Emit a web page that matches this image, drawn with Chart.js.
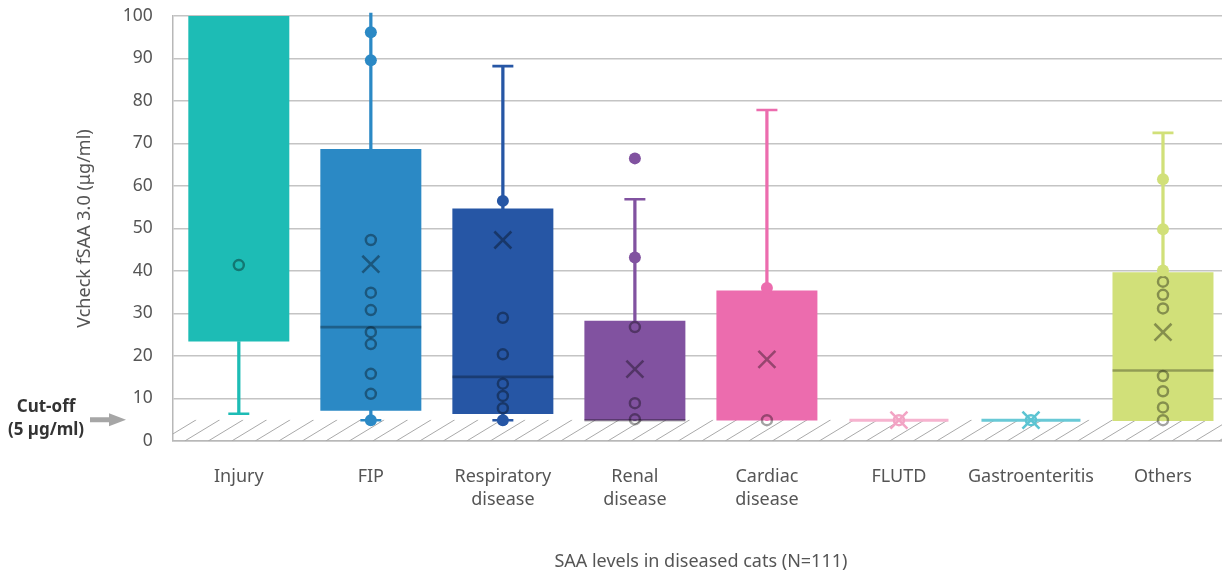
<!DOCTYPE html>
<html>
<head>
<meta charset="utf-8">
<script src="https://cdn.jsdelivr.net/npm/chart.js@4/dist/chart.umd.min.js"></script>
<style>
  html, body { margin: 0; padding: 0; background: #ffffff; }
  #wrap { width: 1222px; height: 572px; position: relative; }
</style>
</head>
<body>
<div id="wrap"><canvas id="c"></canvas></div>
<script>
// ---------------- data ----------------
const categories = ['Injury', 'FIP', ['Respiratory', 'disease'], ['Renal', 'disease'], ['Cardiac', 'disease'], 'FLUTD', 'Gastroenteritis', 'Others'];
const seriesColors = ['#1dbcb5', '#2b89c5', '#2656a5', '#8152a0', '#ec6cae', '#f6b3cf', '#69c9d6', '#d1e079'];
const yTicks = [0, 10, 20, 30, 40, 50, 60, 70, 80, 90, 100];
const cutoff = 5;

// interquartile boxes [Q1, Q3]
const boxRanges = [[23.4, 100], [7.1, 68.7], [6.35, 54.7], [4.8, 28.3], [4.8, 35.4], null, null, [4.7, 39.7]];
// whisker stems [low, high]
const whiskerRanges = [[6.4, 23.4], [4.9, 100.7], [4.9, 88.2], [4.8, 56.9], [4.8, 77.9], null, null, [4.7, 72.5]];
const capsHigh = [null, null, 88.2, 56.9, 77.9, null, null, 72.5];
const capsLow = [6.4, 4.9, 4.9, null, null, null, null, null];
const medians = [null, 26.8, 15.1, 4.9, null, 4.9, 4.9, 16.6];
const means = [null, 41.6, 47.3, 16.9, 19.2, 4.9, 4.9, 25.6];
// individual values shown as open circles (inside boxes)
const hollowPoints = [
  [41.4],
  [47.3, 34.9, 30.8, 25.6, 22.8, 15.8, 11.1],
  [29.0, 20.4, 13.5, 10.6, 7.7],
  [26.8, 8.9, 5.1],
  [4.9],
  [4.9],
  [4.9],
  [37.5, 34.4, 31.2, 15.3, 11.7, 7.9, 4.9]
];
// individual values shown as filled dots (outside boxes)
const filledPoints = [
  [],
  [96.2, 89.6, 4.9],
  [56.5, 4.9],
  [66.5, 43.2],
  [36.0],
  [],
  [],
  [61.6, 49.8, 40.1]
];

// ---------------- helpers ----------------
const FONT = "'Noto Sans', 'Open Sans', sans-serif";
const overlayDark = 'rgba(0,0,0,0.36)';
const flatColorsStrong = { 5: '#f2a4c4', 6: '#5cc4d2' };
function markColor(i) { return flatColorsStrong[i] || overlayDark; }
function toXY(arr) {
  const out = [];
  arr.forEach((v, i) => { if (v !== null && v !== undefined) out.push({ x: categories[i], y: v, i: i }); });
  return out;
}
function listToXY(lists) {
  const out = [];
  lists.forEach((l, i) => l.forEach(v => out.push({ x: categories[i], y: v, i: i })));
  return out;
}
const idxOf = ctx => (ctx.raw && typeof ctx.raw.i === 'number') ? ctx.raw.i : ctx.dataIndex;
const isFlat = c => idxOf(c) === 5 || idxOf(c) === 6;

// ---------------- plugins ----------------
// the original plot runs a few pixels past the right edge of the picture
const extendRight = {
  id: 'extendRight',
  afterLayout(chart) {
    const x = chart.scales.x;
    x.right += 7;
    x.width += 7;
    x.configure();
  }
};

const hatchPlugin = {
  id: 'hatch',
  beforeDatasetsDraw(chart) {
    const { ctx, chartArea, scales } = chart;
    const y0 = scales.y.getPixelForValue(0);
    const y5 = scales.y.getPixelForValue(cutoff);
    const h = y0 - y5;
    ctx.save();
    ctx.beginPath();
    ctx.rect(chartArea.left, y5, chartArea.right - chartArea.left, h);
    ctx.clip();
    ctx.strokeStyle = '#a9a9a9';
    ctx.lineWidth = 1;
    const dx = h * 1.65;
    for (let x = chartArea.left - dx; x < chartArea.right + dx; x += 23.5) {
      ctx.beginPath();
      ctx.moveTo(x, y0);
      ctx.lineTo(x + dx, y5);
      ctx.stroke();
    }
    ctx.restore();
  }
};

const cutoffPlugin = {
  id: 'cutoffLabel',
  afterDraw(chart) {
    const { ctx, scales } = chart;
    const y = scales.y.getPixelForValue(cutoff);
    ctx.save();
    ctx.fillStyle = '#333333';
    ctx.font = "bold 17px " + FONT;
    ctx.textAlign = 'center';
    ctx.textBaseline = 'middle';
    ctx.fillText('Cut-off', 46, y - 13);
    ctx.fillText('(5 \u00b5g/ml)', 46, y + 10);
    // arrow
    ctx.fillStyle = '#a6a6a6';
    ctx.fillRect(90, y - 2.5, 21, 5);
    ctx.beginPath();
    ctx.moveTo(109, y - 6.5);
    ctx.lineTo(126, y);
    ctx.lineTo(109, y + 6.5);
    ctx.closePath();
    ctx.fill();
    ctx.restore();
  }
};

// ---------------- chart ----------------
const ctx = document.getElementById('c');
new Chart(ctx, {
  type: 'bar',
  data: {
    labels: categories,
    datasets: [
      {
        type: 'bar', label: 'whiskers', data: whiskerRanges,
        backgroundColor: seriesColors, barThickness: 2.6, grouped: false, order: 9, clip: false
      },
      {
        type: 'bar', label: 'boxes', data: boxRanges,
        backgroundColor: seriesColors, categoryPercentage: 1, barPercentage: 0.765,
        grouped: false, order: 8
      },
      {
        type: 'line', label: 'capsHigh', data: toXY(capsHigh), showLine: false,
        pointStyle: 'line', pointRadius: 10.5, pointBorderWidth: 2.6,
        pointBorderColor: c => seriesColors[idxOf(c)], order: 7
      },
      {
        type: 'line', label: 'capsLow', data: toXY(capsLow), showLine: false,
        pointStyle: 'line', pointRadius: 10.5, pointBorderWidth: 2.6,
        pointBorderColor: c => seriesColors[idxOf(c)], order: 7
      },
      {
        type: 'line', label: 'medians', data: toXY(medians), showLine: false,
        pointStyle: 'line',
        pointRadius: c => isFlat(c) ? 49.5 : 50.5,
        pointBorderWidth: c => isFlat(c) ? 3 : 2.6,
        pointBorderColor: c => isFlat(c) ? seriesColors[idxOf(c)] : 'rgba(0,0,0,0.3)',
        order: 6
      },
      {
        type: 'line', label: 'hollow', data: listToXY(hollowPoints), showLine: false,
        pointStyle: 'circle', pointRadius: 5, pointBorderWidth: 2.5,
        pointBackgroundColor: 'rgba(0,0,0,0)',
        pointBorderColor: c => markColor(idxOf(c)), order: 4
      },
      {
        type: 'line', label: 'means', data: toXY(means), showLine: false,
        pointStyle: 'crossRot', pointRadius: 12, pointBorderWidth: 2.6,
        pointBorderColor: c => markColor(idxOf(c)), order: 3
      },
      {
        type: 'line', label: 'filled', data: listToXY(filledPoints), showLine: false,
        pointStyle: 'circle', pointRadius: 6, pointBorderWidth: 0,
        pointBackgroundColor: c => seriesColors[idxOf(c)], order: 2
      }
    ]
  },
  options: {
    responsive: true,
    maintainAspectRatio: false,
    animation: false,
    events: [],
    layout: { autoPadding: false, padding: { top: 0, right: 0, bottom: 0, left: 0 } },
    plugins: { legend: { display: false }, tooltip: { enabled: false }, title: { display: false } },
    scales: {
      x: {
        type: 'category',
        offset: true,
        grid: { display: false, drawTicks: false },
        border: { display: true, color: '#b8b8b8', width: 1.5 },
        ticks: { color: '#555555', font: { family: FONT, size: 18, lineHeight: 1.3 }, padding: 24, maxRotation: 0, autoSkip: false },
        title: { display: true, text: 'SAA levels in diseased cats (N=111)', color: '#555555', font: { family: FONT, size: 18 }, padding: { top: 0, bottom: -1 } },
        afterFit(scale) { scale.height = 131; }
      },
      y: {
        type: 'linear',
        min: yTicks[0], max: yTicks[yTicks.length - 1],
        afterBuildTicks(scale) { scale.ticks = yTicks.map(v => ({ value: v })); },
        grid: { color: '#c4c4c4', lineWidth: 1.5, drawTicks: false },
        border: { display: true, color: '#b8b8b8', width: 1.5 },
        ticks: { color: '#555555', font: { family: FONT, size: 17.5 }, padding: 20 },
        title: { display: true, text: 'Vcheck fSAA 3.0 (\u03bcg/ml)', color: '#555555', font: { family: FONT, size: 18 }, padding: { top: 74, bottom: 0 } },
        afterFit(scale) { scale.width = 172.8; scale.paddingTop = 16; scale.paddingBottom = 0; }
      }
    }
  },
  plugins: [extendRight, hatchPlugin, cutoffPlugin]
});
</script>
</body>
</html>
